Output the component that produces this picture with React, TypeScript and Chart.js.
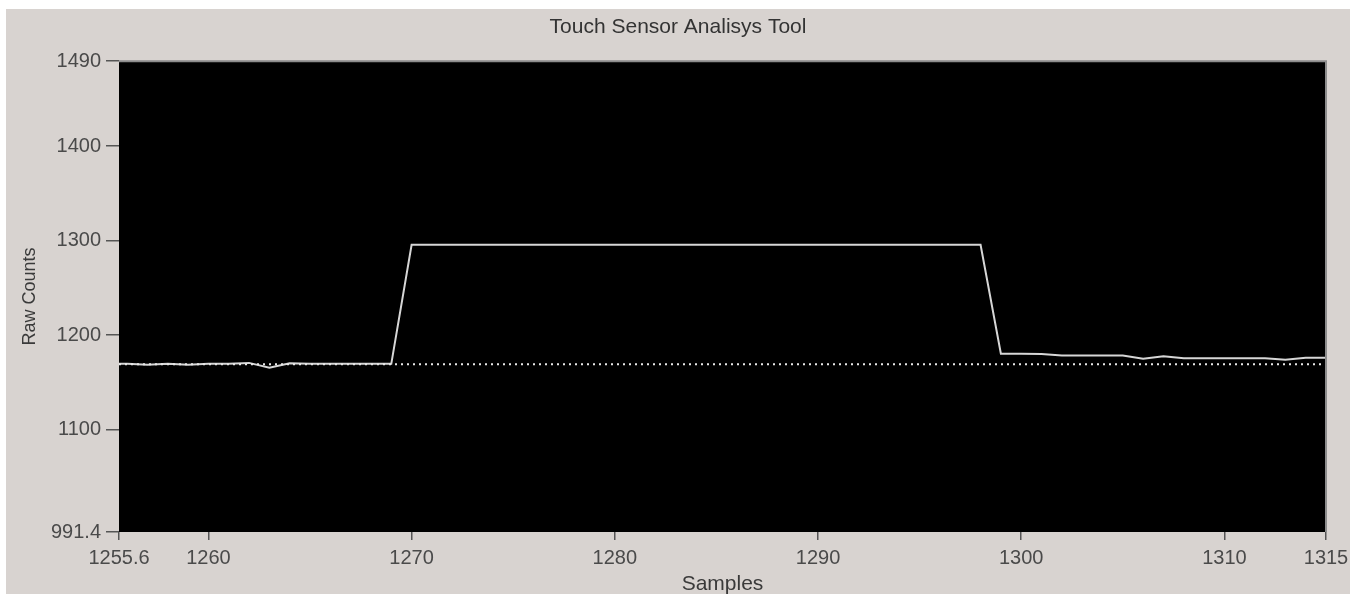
import React, { useEffect, useRef } from "react";
import { Chart, registerables } from "chart.js";

Chart.register(...registerables);

// ---- data ----
const samples = [
  1255, 1256, 1257, 1258, 1259, 1260, 1261, 1262, 1263, 1264, 1265, 1266, 1267, 1268, 1269,
  1270, 1271, 1272, 1273, 1274, 1275, 1276, 1277, 1278, 1279, 1280, 1281, 1282, 1283, 1284,
  1285, 1286, 1287, 1288, 1289, 1290, 1291, 1292, 1293, 1294, 1295, 1296, 1297, 1298, 1299,
  1300, 1301, 1302, 1303, 1304, 1305, 1306, 1307, 1308, 1309, 1310, 1311, 1312, 1313, 1314, 1315,
];
const rawCounts = [
  1169.5, 1169.5, 1168.5, 1169.5, 1168.5, 1169.5, 1169.5, 1170.5, 1165.5, 1170, 1169.5, 1169.5, 1169.5, 1169.5, 1169.5,
  1295.5, 1295.5, 1295.5, 1295.5, 1295.5, 1295.5, 1295.5, 1295.5, 1295.5, 1295.5, 1295.5, 1295.5, 1295.5, 1295.5, 1295.5,
  1295.5, 1295.5, 1295.5, 1295.5, 1295.5, 1295.5, 1295.5, 1295.5, 1295.5, 1295.5, 1295.5, 1295.5, 1295.5, 1295.5, 1180.2,
  1180.2, 1180, 1178.4, 1178.4, 1178.4, 1178.4, 1175, 1177.5, 1175.5, 1175.5, 1175.5, 1175.5, 1175.5, 1173.8, 1175.9, 1175.9,
];
const baselineLevel = 1169;
const xTickValues = [1255.6, 1260, 1270, 1280, 1290, 1300, 1310, 1315];
const yTickValues = [991.4, 1100, 1200, 1300, 1400, 1490];
const xRange = [1255.6, 1315];
const yRange = [991.4, 1490];

const chartTitle = "Touch Sensor Analisys Tool";
const xTitle = "Samples";
const yTitle = "Raw Counts";

const FONT = "'Liberation Sans', Arial, sans-serif";

const plotFrame = {
  id: "plotFrame",
  beforeDraw(chart: any) {
    const { ctx, chartArea } = chart;
    const { left, top, right, bottom } = chartArea;
    ctx.save();
    ctx.fillStyle = "#000000";
    ctx.fillRect(left, top, right - left, bottom - top);
    ctx.restore();
  },
  afterDraw(chart: any) {
    const { ctx, chartArea } = chart;
    const { left, top, right, bottom } = chartArea;
    ctx.save();
    ctx.strokeStyle = "#8c8c8c";
    ctx.lineWidth = 2;
    ctx.beginPath();
    ctx.moveTo(left, top);
    ctx.lineTo(right, top);
    ctx.lineTo(right, bottom);
    ctx.stroke();
    ctx.restore();
  },
};

export default function App() {
  const canvasRef = useRef<HTMLCanvasElement | null>(null);

  useEffect(() => {
    if (!canvasRef.current) return;
    const points = samples.map((s, i) => ({ x: s, y: rawCounts[i] }));
    const baseline = [
      { x: xRange[0], y: baselineLevel },
      { x: xRange[1], y: baselineLevel },
    ];
    const chart = new Chart(canvasRef.current, {
      type: "line",
      data: {
        datasets: [
          {
            data: baseline,
            borderColor: "#e8e8e8",
            borderWidth: 2,
            borderDash: [2, 4],
            pointRadius: 0,
            tension: 0,
          },
          {
            data: points,
            borderColor: "#d6d6d6",
            borderWidth: 2,
            pointRadius: 0,
            tension: 0,
          },
        ],
      },
      options: {
        animation: false,
        responsive: true,
        maintainAspectRatio: false,
        layout: { padding: { left: 0, right: 0, top: 0, bottom: 0 } },
        plugins: {
          legend: { display: false },
          tooltip: { enabled: false },
          title: {
            display: true,
            text: chartTitle,
            color: "#333333",
            font: { family: FONT, size: 21, weight: "normal" },
            padding: { top: 6, bottom: 21 },
          },
        },
        scales: {
          x: {
            type: "linear",
            min: xRange[0],
            max: xRange[1],
            afterBuildTicks: (scale: any) => {
              scale.ticks = xTickValues.map((v) => ({ value: v }));
            },
            afterFit: (scale: any) => {
              scale.height = 62;
              scale.paddingLeft = 0;
              scale.paddingRight = 24;
            },
            ticks: {
              autoSkip: false,
              maxRotation: 0,
              color: "#4a4a4a",
              padding: 6,
              font: { family: FONT, size: 20 },
              callback: (v: any) => String(v),
            },
            grid: {
              drawOnChartArea: false,
              drawTicks: true,
              tickLength: 8,
              color: "#555555",
              lineWidth: 1.5,
            },
            border: { display: false },
            title: {
              display: true,
              text: xTitle,
              color: "#3a3a3a",
              font: { family: FONT, size: 21 },
              padding: { top: 0, bottom: -3 },
            },
          },
          y: {
            type: "linear",
            min: yRange[0],
            max: yRange[1],
            afterBuildTicks: (scale: any) => {
              scale.ticks = yTickValues.map((v) => ({ value: v }));
            },
            afterFit: (scale: any) => {
              scale.width = 113;
            },
            ticks: {
              autoSkip: false,
              color: "#4a4a4a",
              padding: 5,
              font: { family: FONT, size: 20 },
              callback: (v: any) => String(v),
            },
            grid: {
              drawOnChartArea: false,
              drawTicks: true,
              tickLength: 13,
              color: "#555555",
              lineWidth: 1.5,
            },
            border: { display: false },
            title: {
              display: true,
              text: yTitle,
              color: "#3a3a3a",
              font: { family: FONT, size: 18 },
              padding: { top: 13, bottom: 0 },
            },
          },
        },
      },
      plugins: [plotFrame],
    } as any);
    return () => chart.destroy();
  }, []);

  return (
    <div
      style={{
        position: "fixed",
        left: 6,
        top: 9,
        width: 1344,
        height: 585,
        background: "#d8d3d0",
      }}
    >
      <canvas ref={canvasRef} />
    </div>
  );
}
